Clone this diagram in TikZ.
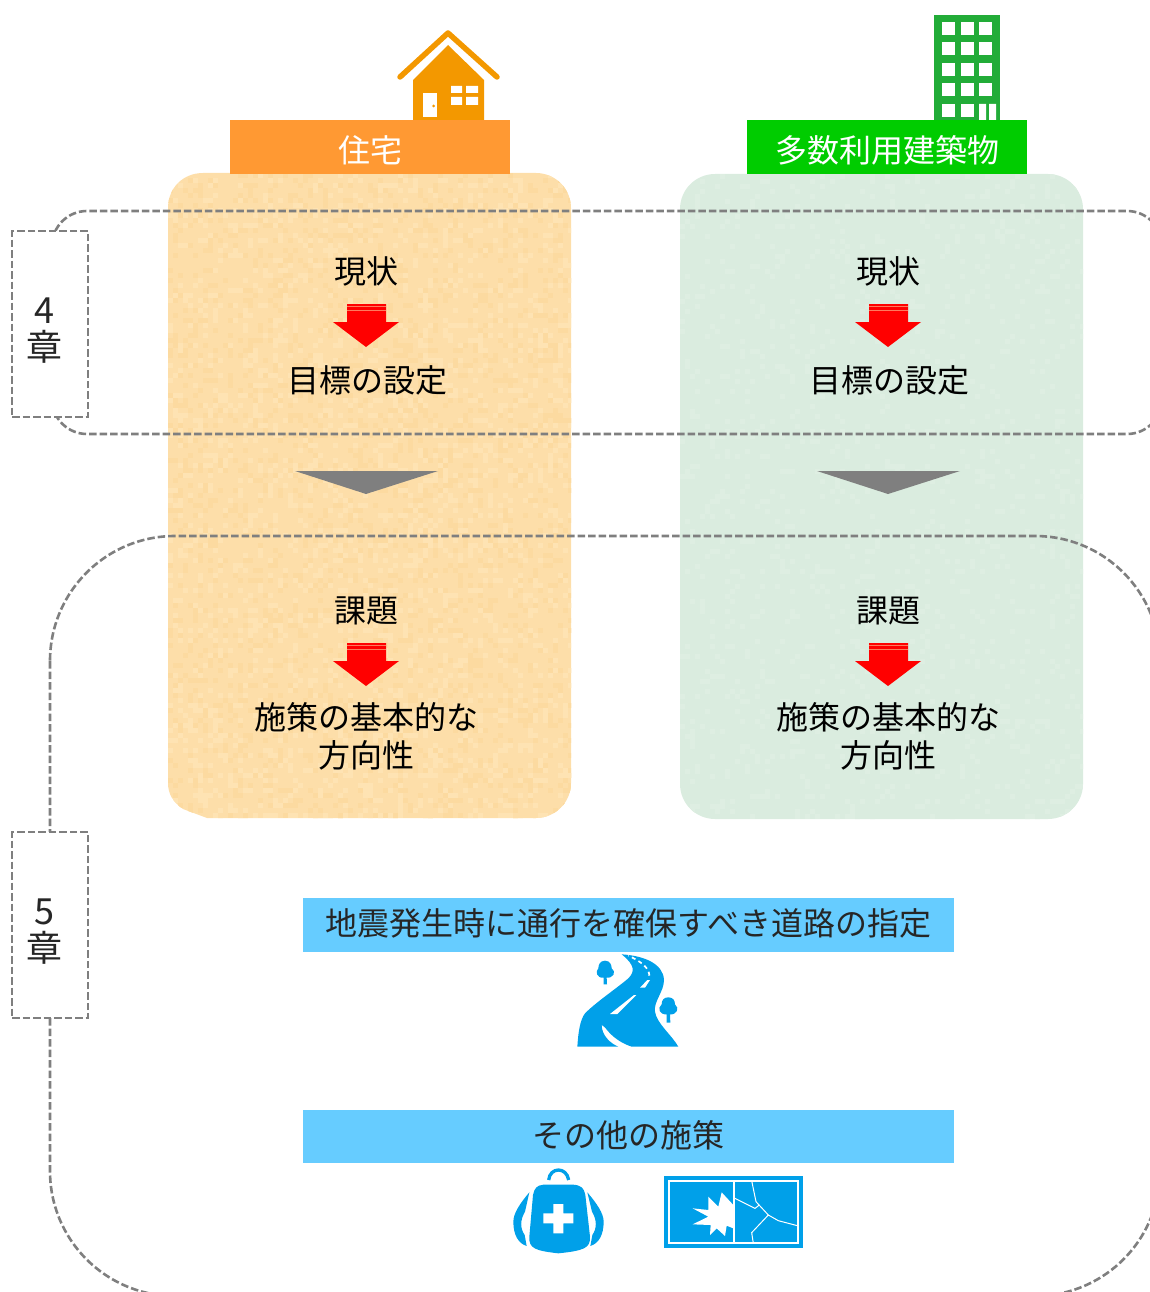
\documentclass[tikz,border=0pt]{standalone}
\usepackage{fontspec}
\setmainfont{Noto Sans CJK JP}
\usetikzlibrary{positioning}
\definecolor{panelorange}{HTML}{FDDEA9}
\definecolor{orangelight}{HTML}{FEE3B3}
\definecolor{orangedark}{HTML}{FCDAA0}
\definecolor{panelgreen}{HTML}{DAECDF}
\definecolor{greenlight}{HTML}{DEEEE2}
\definecolor{dashgray}{HTML}{7F7F7F}
\definecolor{iconblue}{HTML}{00A0E9}
\definecolor{barblue}{HTML}{66CCFF}
\definecolor{houseorange}{HTML}{F39800}
\definecolor{buildgreen}{HTML}{22AC38}
\definecolor{headorange}{HTML}{FF9933}
\definecolor{headgreen}{HTML}{00CC00}
\tikzset{
    redarrow/.pic={
        \fill[red] (-19,-17) -- (20,-17) -- (20,1) -- (33,1) -- (0,26) -- (-33,1) -- (-19,1) -- cycle;
        \fill[red!45!panelorange] (-19,-15) rectangle (20,-14);
        \fill[red!45!panelorange] (-19,-11.5) rectangle (20,-10.5);
    },
    grayhead/.pic={
        \fill[dashgray] (-71,0) -- (72,0) -- (0,23) -- cycle;
    }
}
\begin{document}
\begin{tikzpicture}[x=1pt,y=-1pt,
        header/.style={rectangle,minimum width=280pt,minimum height=54pt,inner sep=0pt,text=white,font=\fontsize{32}{38}\selectfont},
        bar/.style={rectangle,fill=barblue,minimum width=651pt,minimum height=53.5pt,inner sep=0pt,text=black!85,font=\fontsize{32}{38}\selectfont},
        label/.style={align=center,inner sep=0pt,text=black,font=\fontsize{32}{38}\selectfont},
        chapter/.style={rectangle,draw=dashgray,fill=white,line width=2.6pt,dash pattern=on 7.5pt off 3pt,minimum width=76pt,minimum height=186pt,inner sep=0pt},
        chaptext/.style={align=center,inner sep=0pt,text=black!85,font=\fontsize{36}{38}\selectfont},
        dashframe/.style={draw=dashgray,line width=2.6pt,dash pattern=on 7.5pt off 3pt}]
    \useasboundingbox (0,0) rectangle (1150,1292);
    \clip (0,0) rectangle (1150,1292);
    \pgfmathsetseed{4242}

    % left panel, its lower left corner is cut
    \begin{scope}
        \path[clip] (203,173) -- (536,173) arc (90:0:35 and -35) -- (571,783) arc (0:-90:35 and -35)
            -- (207,818) -- (183,809) .. controls (173,802) and (168,794) .. (168,783)
            -- (168,208) .. controls (168,188) and (183,173) .. (203,173) -- cycle;
        \fill[panelorange] (160,170) rectangle (575,820);
        \foreach \i in {1,...,2200} {
            \pgfmathrandominteger{\a}{0}{80}
            \pgfmathrandominteger{\b}{0}{129}
            \fill[orangelight] ({168+\a*5},{173+\b*5}) rectangle +(5,5);
            \pgfmathrandominteger{\a}{0}{80}
            \pgfmathrandominteger{\b}{0}{129}
            \fill[orangedark] ({168+\a*5},{173+\b*5}) rectangle +(5,5);
        }
    \end{scope}

    % right panel
    \begin{scope}
        \path[clip,rounded corners=35pt] (680,174) rectangle (1083,819);
        \fill[panelgreen] (675,170) rectangle (1090,825);
        \foreach \i in {1,...,1200} {
            \pgfmathrandominteger{\a}{0}{80}
            \pgfmathrandominteger{\b}{0}{129}
            \fill[greenlight] ({680+\a*5},{174+\b*5}) rectangle +(5,5);
        }
    \end{scope}

    % house
    \fill[houseorange] (413,121) -- (413,80) -- (448,45) -- (484,80) -- (484,121) -- cycle;
    \draw[houseorange,line width=5.5pt,line cap=round,line join=round] (400,77) -- (448,33) -- (497,77);
    \fill[white] (423,93) rectangle (437,117);
    \fill[houseorange] (433.5,106) circle (1.5);
    \fill[white] (451,86) rectangle (462,93) (466,86) rectangle (478,93)
        (451,97) rectangle (462,105) (466,97) rectangle (478,105);

    % building
    \fill[buildgreen] (934,15) rectangle (1000,121);
    \foreach \y in {22,42,63,83,104} {
        \foreach \x in {942,961,979} {
            \fill[white] (\x,\y) rectangle +(12.5,13);
        }
    }
    \fill[buildgreen] (979,103) rectangle (993,118);
    \fill[white] (979,104) rectangle (986,121) (989,104) rectangle (996,121);

    \node[header,fill=headorange] (houseHead) at (370,147) {\raisebox{-3pt}[\height][\depth]{住宅}};
    \node[header,fill=headgreen] (buildHead) at (887,147) {\raisebox{-3pt}[\height][\depth]{多数利用建築物}};

    \foreach \x/\n in {366/L,888/R} {
        \node[label] (state\n) at (\x,271) {現状};
        \pic at (\x,321) {redarrow};
        \node[label] (goal\n) at (\x+1,380) {目標の設定};
        \pic at (\x,471) {grayhead};
        \node[label] (issue\n) at (\x,611) {課題};
        \pic at (\x,660) {redarrow};
        \node[label] (policy\n) at (\x,736) {施策の基本的な\\方向性};
    }

    \draw[dashframe,rounded corners=35pt] (52,211) rectangle (1162,434);
    \draw[dashframe,rounded corners=125pt] (50,536) rectangle (1160,1296);

    \node[chapter] (ch4) at (50,324) {};
    \node[chapter] (ch5) at (50,925) {};
    \node[chaptext] (ch4text) at (44,330.5) {4\\[-1pt]章};
    \node[chaptext] (ch5text) at (44,932) {5\\[-1pt]章};

    \node[bar] (roadBar) at (628.5,925) {\raisebox{2pt}[\height][\depth]{地震発生時に通行を確保すべき道路の指定}};
    \node[bar] (otherBar) at (628.5,1136.5) {\raisebox{1pt}[\height][\depth]{その他の施策}};

    % road
    \begin{scope}[shift={(560,945)},scale=1/3]
        \fill[iconblue] (185,28) .. controls (250,32) and (310,55) .. (312,105)
            .. controls (312,140) and (280,170) .. (285,200)
            .. controls (290,235) and (335,270) .. (355,305) -- (215,305)
            .. controls (185,295) and (165,280) .. (150,265)
            .. controls (140,255) and (135,245) .. (125,240)
            .. controls (125,270) and (150,295) .. (175,305) -- (52,305)
            .. controls (55,260) and (60,225) .. (75,205)
            .. controls (110,170) and (170,130) .. (205,100)
            .. controls (225,80) and (225,60) .. (185,28) -- cycle;
        \fill[white] (150,207) -- (222,150) -- (229,150) -- (172,207) -- cycle;
        \fill[white] (240,128) -- (262,105) -- (270,105) -- (255,128) -- cycle;
        \draw[white,line width=1.7pt,dash pattern=on 4pt off 3.5pt] (268,92) .. controls (268,70) and (245,50) .. (205,32);
        \fill[iconblue] (135,47) .. controls (150,47) and (155,60) .. (155,70)
            .. controls (170,80) and (160,100) .. (140,98) -- (141,118) -- (131,118) -- (131,98)
            .. controls (110,100) and (105,80) .. (115,70) .. controls (115,60) and (120,47) .. (135,47) -- cycle;
        \fill[iconblue] (325,157) .. controls (338,157) and (345,165) .. (345,178)
            .. controls (360,190) and (350,210) .. (330,208) -- (331,233) -- (320,233) -- (320,208)
            .. controls (300,210) and (290,190) .. (305,178) .. controls (305,165) and (312,157) .. (325,157) -- cycle;
    \end{scope}

    % backpack
    \begin{scope}[shift={(500,1160)},scale=1/3]
        \draw[iconblue,line width=3.3pt] (146,60) .. controls (150,20) and (200,20) .. (206,60);
        \fill[iconblue] (130,74) -- (220,74) .. controls (245,76) and (252,85) .. (256,105)
            -- (270,230) .. controls (272,265) and (250,272) .. (175,280)
            .. controls (105,272) and (86,265) .. (88,230) -- (99,105)
            .. controls (103,85) and (110,76) .. (130,74) -- cycle;
        \fill[iconblue] (88,97) .. controls (60,130) and (40,160) .. (40,185)
            .. controls (40,225) and (55,250) .. (80,258) -- (74,225)
            .. controls (60,205) and (60,180) .. (75,155) -- cycle;
        \fill[iconblue] (262,97) .. controls (290,130) and (311,160) .. (311,185)
            .. controls (311,225) and (296,250) .. (271,258) -- (277,225)
            .. controls (291,205) and (291,180) .. (276,155) -- cycle;
        \fill[white] (160,132) rectangle (190,220) (130,160) rectangle (220,190);
    \end{scope}

    % broken window
    \begin{scope}[shift={(500,1160)},scale=1/3]
        \fill[iconblue] (492,48) rectangle (908,265);
        \draw[white,line width=2pt] (507,62) rectangle (893,250);
        \draw[white,line width=2pt] (703,62) -- (703,250);
        \fill[white] (578,145) -- (625,150) -- (625,110) -- (655,140) -- (665,97) -- (700,135)
            -- (700,205) -- (680,197) -- (675,228) -- (650,205) -- (630,225) -- (632,195)
            -- (578,193) -- (625,170) -- cycle;
        \draw[white,line width=1pt] (755,62) -- (768,125) -- (805,165) -- (835,182) -- (892,197)
            (705,115) -- (765,145) -- (778,135)
            (805,165) -- (755,218) -- (760,250);
    \end{scope}
\end{tikzpicture}
\end{document}
